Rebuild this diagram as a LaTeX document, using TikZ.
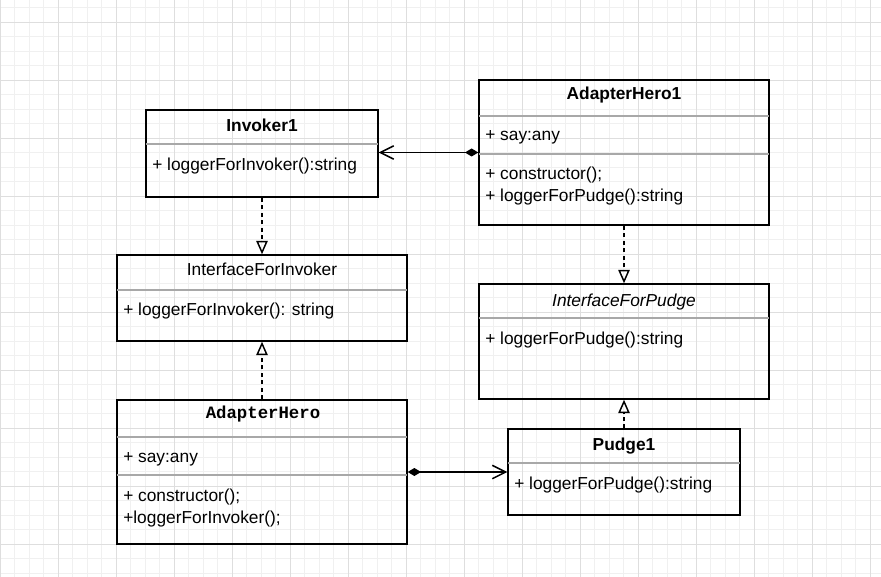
\documentclass[tikz,border=0pt]{standalone}
\usepackage{fontspec}
\setmainfont{Liberation Sans}
\setmonofont{Liberation Mono}
\usepackage{xcolor}
\usetikzlibrary{arrows.meta, fit, calc, positioning}
\definecolor{gridminor}{rgb}{0.94,0.94,0.94}
\definecolor{gridmajor}{rgb}{0.87,0.87,0.87}
\definecolor{divgray}{rgb}{0.66,0.66,0.66}
\newcommand{\umlsize}{\fontsize{13}{15}\selectfont}

\begin{document}
\begin{tikzpicture}[x=0.75pt, y=-0.75pt]
    \tikzstyle{classbox}=[draw, line width=1.1pt, inner sep=0pt, rectangle]
    \tikzstyle{divider}=[divgray, line width=0.9pt]
    \tikzstyle{classname}=[font=\umlsize\bfseries, anchor=base, inner sep=0pt]
    \tikzstyle{member}=[font=\umlsize, anchor=base west, inner sep=0pt]
    \tikzstyle{realize}=[line width=1.1pt, dash pattern=on 3pt off 2.6pt,
        -{Triangle[open, length=10pt, width=8.5pt]}]
    \tikzstyle{assoc}=[line width=1.1pt,
        {Diamond[length=10pt, width=6pt]}-{Straight Barb[length=10pt, width=10pt]}]

    % Canvas and grid
    \useasboundingbox (0,0) rectangle (881,577);
    \fill[white] (0,0) rectangle (881,577);
    \foreach \i in {0,...,60}
        \draw[gridminor, line width=0.5pt] (\i*14.5,0) -- (\i*14.5,577);
    \foreach \j in {0,...,39}
        \draw[gridminor, line width=0.5pt] (0,7.5+\j*14.5) -- (881,7.5+\j*14.5);
    \foreach \i in {0,...,15}
        \draw[gridmajor, line width=0.6pt] (\i*58,0) -- (\i*58,577);
    \foreach \j in {0,...,9}
        \draw[gridmajor, line width=0.6pt] (0,22+\j*58) -- (881,22+\j*58);

    % Invoker1
    \node[classbox, fit={(146,110) (378,197)}] (invoker) {};
    \draw[divider] (146,144) -- (378,144);
    \node[classname] (invokerName) at (262,132) {Invoker1};
    \node[member] (invokerOp) at (152,171) {+ loggerForInvoker():string};

    % AdapterHero1
    \node[classbox, fit={(479,80) (769,225)}] (adapterOne) {};
    \draw[divider] (479,116) -- (769,116);
    \draw[divider] (479,154) -- (769,154);
    \node[classname] (adapterOneName) at (624,100) {AdapterHero1};
    \node[member] (adapterOneAttr) at (485,141) {+ say:any};
    \node[member] (adapterOneCtor) at (485,180) {+ constructor();};
    \node[member] (adapterOneOp) at (485,202) {+ loggerForPudge():string};

    % InterfaceForInvoker
    \node[classbox, fit={(117,255) (407,341)}] (ifInvoker) {};
    \draw[divider] (117,290) -- (407,290);
    \node[classname, font=\umlsize] (ifInvokerName) at (262,276) {InterfaceForInvoker};
    \node[member] (ifInvokerOp) at (123,315) {+ loggerForInvoker(): string};

    % InterfaceForPudge
    \node[classbox, fit={(479,284) (769,399)}] (ifPudge) {};
    \draw[divider] (479,318) -- (769,318);
    \node[classname, font=\umlsize\itshape] (ifPudgeName) at (624,306) {InterfaceForPudge};
    \node[member] (ifPudgeOp) at (485,344) {+ loggerForPudge():string};

    % AdapterHero
    \node[classbox, fit={(117,400) (407,544)}] (adapter) {};
    \draw[divider] (117,437) -- (407,437);
    \draw[divider] (117,475) -- (407,475);
    \node[classname, font=\umlsize\ttfamily\bfseries] (adapterName) at (263,418) {AdapterHero};
    \node[member] (adapterAttr) at (123,462) {+ say:any};
    \node[member] (adapterCtor) at (123,501) {+ constructor();};
    \node[member] (adapterOp) at (123,523) {+loggerForInvoker();};

    % Pudge1
    \node[classbox, fit={(508,429) (740,515)}] (pudge) {};
    \draw[divider] (508,463) -- (740,463);
    \node[classname] (pudgeName) at (624,450) {Pudge1};
    \node[member] (pudgeOp) at (514,489) {+ loggerForPudge():string};

    % Realizations
    \draw[realize] (invoker) -- (ifInvoker);
    \draw[realize] (adapter) -- (ifInvoker);
    \draw[realize] (adapterOne) -- (ifPudge);
    \draw[realize] (pudge) -- (ifPudge);

    % Associations
    \draw[assoc] (adapterOne.west) -- (invoker.east |- adapterOne.west);
    \draw[assoc] (adapter) -- (pudge);
\end{tikzpicture}
\end{document}
